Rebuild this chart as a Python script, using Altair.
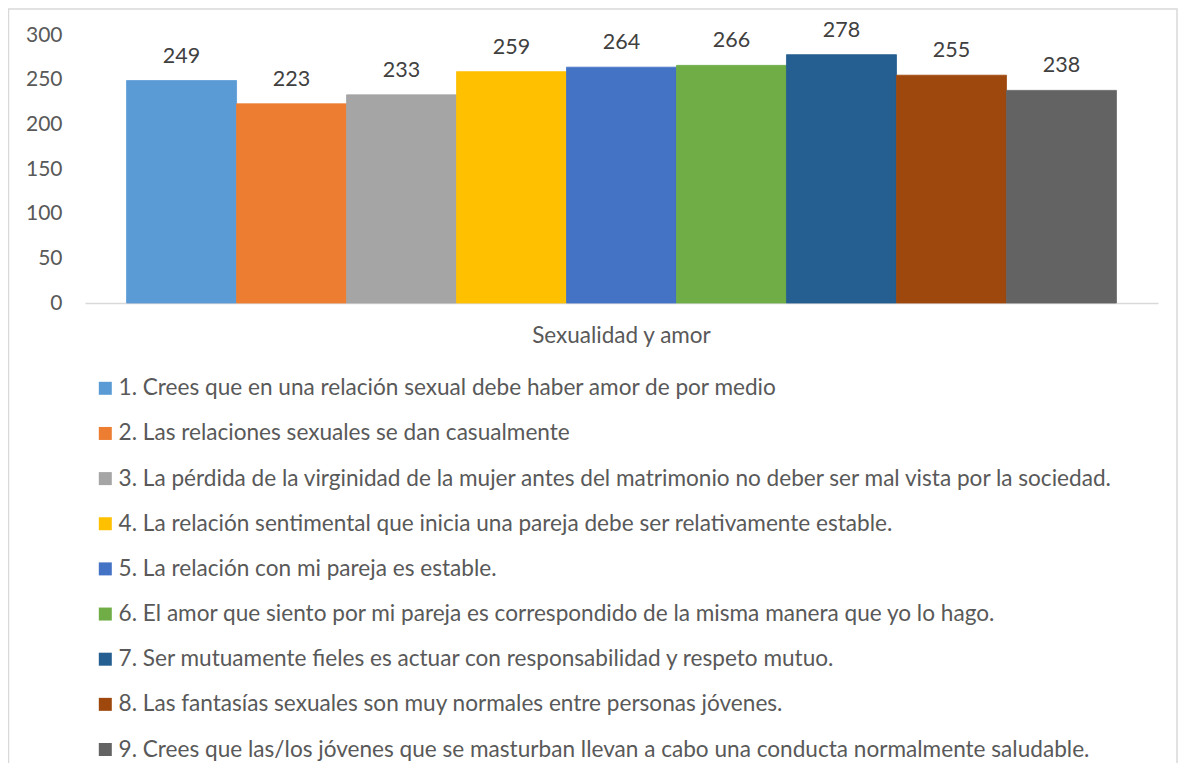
import altair as alt
import pandas as pd

group = "Sexualidad y amor"
items = [
    "1. Crees que en una relación sexual debe haber amor de por medio",
    "2. Las relaciones sexuales se dan casualmente",
    "3. La pérdida de la virginidad de la mujer antes del matrimonio no deber ser mal vista por la sociedad.",
    "4. La relación sentimental  que inicia una pareja debe ser relativamente estable.",
    "5. La relación con mi pareja es estable.",
    "6. El amor que siento por mi pareja es correspondido de la misma manera que yo lo hago.",
    "7. Ser mutuamente fieles es actuar con responsabilidad y respeto mutuo.",
    "8. Las fantasías sexuales son muy normales entre personas jóvenes.",
    "9. Crees  que las/los jóvenes que se masturban llevan a cabo una conducta normalmente saludable.",
]
values = [249, 223, 233, 259, 264, 266, 278, 255, 238]
colors = ["#5B9BD5", "#ED7D31", "#A5A5A5", "#FFC000", "#4472C4",
          "#70AD47", "#255E91", "#9E480E", "#636363"]
y_ticks = [0, 50, 100, 150, 200, 250, 300]

df = pd.DataFrame({"grupo": [group] * len(items), "item": items, "valor": values})

FONT = "Lato"
W, H = 1073, 268

base = alt.Chart(df).encode(
    x=alt.X("grupo:N", title=None,
            scale=alt.Scale(paddingInner=0, paddingOuter=0.042),
            axis=alt.Axis(labelAngle=0, ticks=False, domainColor="#d9d9d9",
                          domainWidth=1.5, labelFontSize=22.5, labelColor="#595959",
                          labelPadding=21, labelFont=FONT)),
    xOffset=alt.XOffset("item:N", sort=items,
                        scale=alt.Scale(paddingInner=0, paddingOuter=0)),
    y=alt.Y("valor:Q", title=None,
            scale=alt.Scale(domain=[0, 300], nice=False),
            axis=alt.Axis(values=y_ticks, grid=False, domain=False, ticks=False,
                          labelFontSize=21, labelColor="#595959", labelPadding=23,
                          labelFont=FONT)),
)

color_scale = alt.Scale(domain=items, range=colors)

bars = base.mark_bar(strokeWidth=0.8).encode(
    color=alt.Color("item:N", sort=items, scale=color_scale,
                    legend=alt.Legend(orient="none", legendX=9, legendY=342,
                                      direction="vertical", title=None,
                                      symbolType="square", symbolSize=169,
                                      symbolStrokeWidth=0, labelFontSize=22.6,
                                      labelFont=FONT, labelColor="#595959",
                                      labelLimit=1100, rowPadding=22.15,
                                      labelOffset=2)),
    stroke=alt.Stroke("item:N", sort=items, scale=color_scale, legend=None),
)

labels = base.mark_text(baseline="alphabetic", dy=-18, fontSize=21.5,
                        font=FONT, color="#404040").encode(
    text=alt.Text("valor:Q")
)

frame = alt.Chart(pd.DataFrame({"a": [0]})).mark_rect(
    fill=None, stroke="#d9d9d9", strokeWidth=1.5, clip=False
).encode(
    x=alt.value(-76.5), x2=alt.value(1092), y=alt.value(-26), y2=alt.value(800)
)

chart = alt.layer(frame, bars, labels).properties(
    width=W, height=H,
    padding={"left": 77, "top": 27, "right": 20, "bottom": 460},
    autosize=alt.AutoSizeParams(type="none"),
).configure(font=FONT, view=alt.ViewConfig(stroke="transparent"))

chart.save("out.html", embed_options={"renderer": "svg", "actions": False})
